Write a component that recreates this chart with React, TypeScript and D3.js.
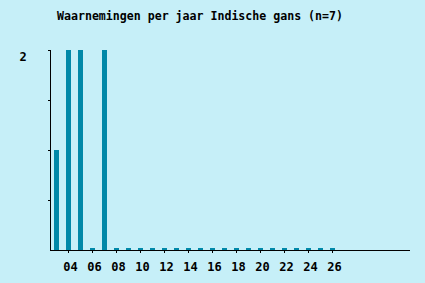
import React from "react";
import * as d3 from "d3";

const title = "Waarnemingen per jaar Indische gans (n=7)";
const years = [2003, 2004, 2005, 2006, 2007, 2008, 2009, 2010, 2011, 2012, 2013, 2014, 2015, 2016, 2017, 2018, 2019, 2020, 2021, 2022, 2023, 2024, 2025, 2026];
const counts = [1, 2, 2, 0, 2, 0, 0, 0, 0, 0, 0, 0, 0, 0, 0, 0, 0, 0, 0, 0, 0, 0, 0, 0];
const tickYears = [2004, 2006, 2008, 2010, 2012, 2014, 2016, 2018, 2020, 2022, 2024, 2026];
const yTicks = [0, 0.5, 1, 1.5, 2];
const yLabels = [2];

const W = 425, H = 283;
const BG = "#c6eff8";
const BAR = "#0088a8";
const FONT = "'DejaVu Sans Mono', 'Liberation Mono', monospace";

export default function App() {
  const domainYears = d3.range(2003, 2033);
  const x = d3.scaleBand<number>().domain(domainYears).range([50, 410]);
  const y = d3.scaleLinear().domain([0, 2]).range([250, 50]);
  const bw = 5;
  return (
    <svg width={W} height={H} style={{ position: "absolute", left: 0, top: 0, display: "block" }}>
      <rect x={0} y={0} width={W} height={H} fill={BG} />
      <text x={200} y={20} textAnchor="middle" fontFamily={FONT} fontWeight="bold" fontSize={12} textLength={286} lengthAdjust="spacingAndGlyphs">{title}</text>
      {years.map((yr, i) => {
        const v = counts[i];
        const top = v === 0 ? y(0) - 2 : y(v);
        return <rect key={yr} x={(x(yr) as number) + 4} y={top} width={bw} height={y(0) - top} fill={BAR} />;
      })}
      <line x1={50.5} y1={50} x2={50.5} y2={250.5} stroke="#000" />
      <line x1={50} y1={250.5} x2={410} y2={250.5} stroke="#000" />
      {yTicks.slice(1).map((t) => (
        <line key={t} x1={48} x2={50} y1={Math.round(y(t)) + 0.5} y2={Math.round(y(t)) + 0.5} stroke="#000" />
      ))}
      {yLabels.map((t) => (
        <text key={t} x={23} y={61} textAnchor="middle" fontFamily={FONT} fontWeight="bold" fontSize={12}>{t}</text>
      ))}
      {tickYears.map((yr) => {
        const cx = Math.floor((x(yr) as number) + 6) + 0.5;
        return (
          <g key={yr}>
            <line x1={cx} x2={cx} y1={250} y2={253} stroke="#000" />
            <text x={cx + 2} y={271} textAnchor="middle" fontFamily={FONT} fontWeight="bold" fontSize={12}>{String(yr % 100).padStart(2, "0")}</text>
          </g>
        );
      })}
    </svg>
  );
}
